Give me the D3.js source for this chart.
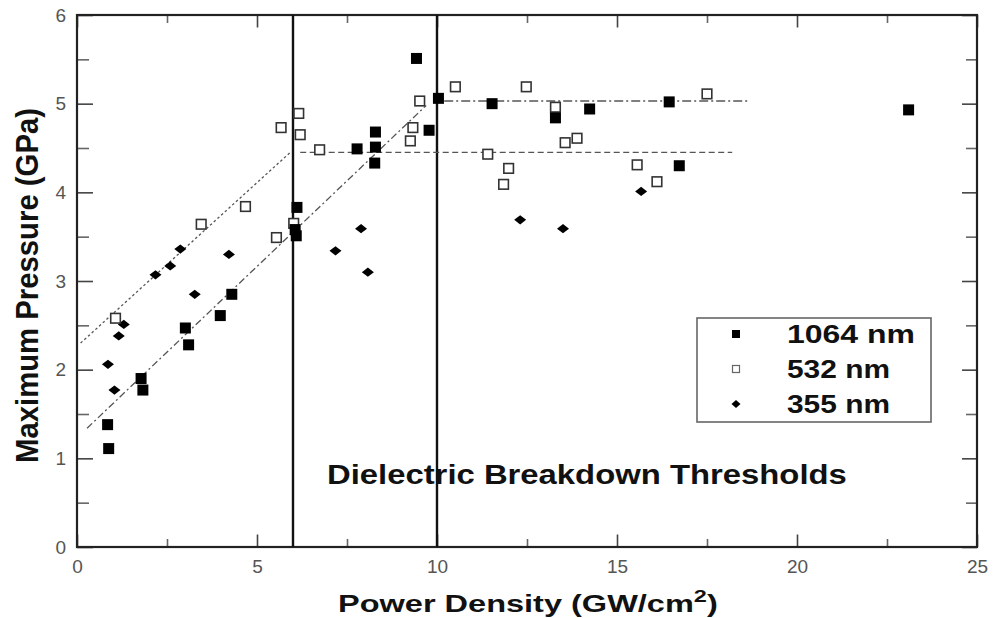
<!DOCTYPE html>
<html>
<head>
<meta charset="utf-8">
<script src="https://cdn.jsdelivr.net/npm/d3@7"></script>
<style>
  body { margin: 0; background: #fff; }
  text { font-family: "Liberation Sans", Arial, sans-serif; }
</style>
</head>
<body>
<svg id="chart" width="995" height="618"></svg>
<script>
"use strict"

// measured points [power density GW/cm2, max pressure GPa]
const series_1064 = [
    [0.85, 1.38], [0.88, 1.11], [1.78, 1.90], [1.83, 1.77], [3.01, 2.47], [3.10, 2.28],
    [3.98, 2.61], [4.30, 2.85], [6.06, 3.58], [6.09, 3.51], [6.11, 3.83], [7.78, 4.49],
    [8.27, 4.33], [8.29, 4.51], [8.29, 4.68], [9.43, 5.51], [9.78, 4.70], [10.04, 5.06],
    [11.53, 5.00], [13.29, 4.84], [14.24, 4.94], [16.45, 5.02], [16.73, 4.30], [23.10, 4.93]
];
const series_532 = [
    [1.07, 2.58], [3.45, 3.64], [4.68, 3.84], [5.54, 3.49], [5.67, 4.73], [6.02, 3.65],
    [6.16, 4.89], [6.20, 4.65], [6.74, 4.48], [9.26, 4.58], [9.33, 4.73], [9.52, 5.03],
    [10.51, 5.19], [11.41, 4.43], [11.85, 4.09], [11.99, 4.27], [12.48, 5.19], [13.29, 4.96],
    [13.56, 4.56], [13.89, 4.61], [15.56, 4.31], [16.11, 4.12], [17.50, 5.11]
];
const series_355 = [
    [0.86, 2.06], [1.04, 1.77], [1.16, 2.38], [1.30, 2.51], [2.18, 3.07], [2.59, 3.17],
    [2.87, 3.36], [3.27, 2.85], [4.22, 3.30], [7.18, 3.34], [7.89, 3.59], [8.08, 3.10],
    [12.31, 3.69], [13.50, 3.59], [15.67, 4.01]
];

// guide lines drawn over the data (rise then plateau)
const fit_532_rise = [[0.10, 2.30], [5.95, 4.46]];
const fit_532_flat = [[6.20, 4.45], [18.20, 4.45]];
const fit_1064_rise = [[0.28, 1.34], [9.70, 4.98]];
const fit_1064_flat = [[10.20, 5.03], [18.70, 5.03]];

// dielectric breakdown thresholds
const thresholds = [6, 10];

const legend_labels = ['1064 nm', '532 nm', '355 nm'];
const x_ticks = [0, 5, 10, 15, 20, 25];
const y_ticks = [0, 1, 2, 3, 4, 5, 6];
const x_minor = [2.5, 7.5, 12.5, 17.5, 22.5];
const y_minor = [0.5, 1.5, 2.5, 3.5, 4.5, 5.5];

const svg = d3.select('#chart');

const x = d3.scaleLinear().domain([0, 25]).range([77, 977]);
const y = d3.scaleLinear().domain([0, 6]).range([547, 15]);

//stretch a text horizontally so it covers the width seen in the picture
function fit_width(sel, width) {
    const node = sel.node();
    const w = node.getComputedTextLength();
    const x0 = +sel.attr('x');
    const k = width / w;
    sel.attr('transform', `translate(${x0 * (1 - k)},0) scale(${k},1)`);
}

//--------------------------------------//
//----------------AXES------------------//
//--------------------------------------//

function style_axis(g, color) {
    g.select('.domain').remove();
    g.selectAll('.tick line').attr('stroke', color).attr('stroke-width', 1.6);
    g.selectAll('.tick text')
        .attr('fill', '#555')
        .style('font-size', '19px')
        .style('font-family', '"Liberation Sans", Arial, sans-serif');
}

// bottom major + minor
svg.append('g').attr('transform', `translate(0,${y(0)})`)
    .call(d3.axisBottom(x).tickValues(x_ticks).tickSize(-12.5).tickSizeOuter(0).tickPadding(13).tickFormat(d3.format('d')))
    .call(g => style_axis(g, '#444'));
svg.append('g').attr('transform', `translate(0,${y(0)})`)
    .call(d3.axisBottom(x).tickValues(x_minor).tickSize(-8).tickSizeOuter(0).tickFormat(''))
    .call(g => style_axis(g, '#666'));

// top major + minor, no labels
svg.append('g').attr('transform', `translate(0,${y(6)})`)
    .call(d3.axisTop(x).tickValues(x_ticks).tickSize(-12.5).tickSizeOuter(0).tickFormat(''))
    .call(g => style_axis(g, '#444'));
svg.append('g').attr('transform', `translate(0,${y(6)})`)
    .call(d3.axisTop(x).tickValues(x_minor).tickSize(-8).tickSizeOuter(0).tickFormat(''))
    .call(g => style_axis(g, '#666'));

// left major + minor
svg.append('g').attr('transform', `translate(${x(0)},0)`)
    .call(d3.axisLeft(y).tickValues(y_ticks).tickSize(-16).tickSizeOuter(0).tickPadding(11).tickFormat(d3.format('d')))
    .call(g => style_axis(g, '#444'));
svg.append('g').attr('transform', `translate(${x(0)},0)`)
    .call(d3.axisLeft(y).tickValues(y_minor).tickSize(-12).tickSizeOuter(0).tickFormat(''))
    .call(g => style_axis(g, '#666'));

// right major + minor
svg.append('g').attr('transform', `translate(${x(25)},0)`)
    .call(d3.axisRight(y).tickValues(y_ticks).tickSize(-15).tickSizeOuter(0).tickFormat(''))
    .call(g => style_axis(g, '#444'));
svg.append('g').attr('transform', `translate(${x(25)},0)`)
    .call(d3.axisRight(y).tickValues(y_minor).tickSize(-11).tickSizeOuter(0).tickFormat(''))
    .call(g => style_axis(g, '#666'));

// plot frame
svg.append('rect')
    .attr('x', x(0)).attr('y', y(6))
    .attr('width', x(25) - x(0)).attr('height', y(0) - y(6))
    .attr('fill', 'none').attr('stroke', '#222').attr('stroke-width', 2.2);

//--------------------------------------//
//-------------GUIDE LINES--------------//
//--------------------------------------//

svg.selectAll('.threshold').data(thresholds).enter().append('line')
    .attr('class', 'threshold')
    .attr('x1', d => x(d)).attr('x2', d => x(d))
    .attr('y1', y(0)).attr('y2', y(6))
    .attr('stroke', '#111').attr('stroke-width', 2.4);

const line = d3.line().x(d => x(d[0])).y(d => y(d[1]));

const fits = [
    { pts: fit_532_rise, dash: '2.5,2.5' },
    { pts: fit_532_flat, dash: '6,3.5' },
    { pts: fit_1064_rise, dash: '7,3,2,3' },
    { pts: fit_1064_flat, dash: '9,3,2,3' }
];
fits.forEach(f => {
    svg.append('path')
        .attr('d', line(f.pts))
        .attr('fill', 'none')
        .attr('stroke', '#555')
        .attr('stroke-width', 1.3)
        .attr('stroke-dasharray', f.dash);
});

//--------------------------------------//
//---------------MARKERS----------------//
//--------------------------------------//

function diamond(w, h) {
    return `M0,${-h}L${w},0L0,${h}L${-w},0Z`;
}

svg.append('g').selectAll('path').data(series_355).enter().append('path')
    .attr('transform', d => `translate(${x(d[0])},${y(d[1])})`)
    .attr('d', diamond(6, 4.6))
    .attr('fill', '#000');

svg.append('g').selectAll('rect').data(series_532).enter().append('rect')
    .attr('x', d => x(d[0]) - 4.8).attr('y', d => y(d[1]) - 4.8)
    .attr('width', 9.6).attr('height', 9.6)
    .attr('fill', '#fff').attr('stroke', '#333').attr('stroke-width', 1.6);

svg.append('g').selectAll('rect').data(series_1064).enter().append('rect')
    .attr('x', d => x(d[0]) - 5.5).attr('y', d => y(d[1]) - 5.5)
    .attr('width', 11).attr('height', 11)
    .attr('fill', '#000');

//--------------------------------------//
//---------------LEGEND-----------------//
//--------------------------------------//

const legend = svg.append('g');
legend.append('rect')
    .attr('x', 697).attr('y', 318).attr('width', 234).attr('height', 104)
    .attr('fill', '#fff').attr('stroke', '#666').attr('stroke-width', 1.6);

const row_y = [334, 369, 404];
legend.append('rect').attr('x', 732).attr('y', row_y[0] - 4).attr('width', 8).attr('height', 8).attr('fill', '#000');
legend.append('rect').attr('x', 732.5).attr('y', row_y[1] - 3.5).attr('width', 7).attr('height', 7)
    .attr('fill', '#fff').attr('stroke', '#666').attr('stroke-width', 1.2);
legend.append('path').attr('transform', `translate(736,${row_y[2]})`).attr('d', diamond(4.5, 4)).attr('fill', '#000');

legend_labels.forEach((lab, i) => {
    const t = legend.append('text')
        .attr('x', 787).attr('y', row_y[i] + 9.5)
        .style('font-size', '26px').style('font-weight', 'bold')
        .attr('fill', '#111')
        .text(lab);
    fit_width(t, i === 0 ? 128 : 103);
});

//--------------------------------------//
//----------------TITLES----------------//
//--------------------------------------//

const note = svg.append('text')
    .attr('x', 327).attr('y', 484)
    .style('font-size', '27px').style('font-weight', 'bold')
    .attr('fill', '#111')
    .text('Dielectric Breakdown Thresholds');
fit_width(note, 520);

const x_title = svg.append('text')
    .attr('x', 338).attr('y', 612)
    .style('font-size', '23.5px').style('font-weight', 'bold')
    .attr('fill', '#111');
x_title.append('tspan').text('Power Density (GW/cm');
x_title.append('tspan').attr('dy', -10).style('font-size', '17px').text('2');
x_title.append('tspan').attr('dy', 10).text(')');
fit_width(x_title, 380);

const y_title = svg.append('text')
    .attr('transform', 'translate(38,463) rotate(-90)')
    .attr('x', 0).attr('y', 0)
    .style('font-size', '31px').style('font-weight', 'bold')
    .attr('fill', '#111')
    .text('Maximum Pressure (GPa)');
y_title.attr('textLength', 355).attr('lengthAdjust', 'spacingAndGlyphs');
</script>
</body>
</html>
